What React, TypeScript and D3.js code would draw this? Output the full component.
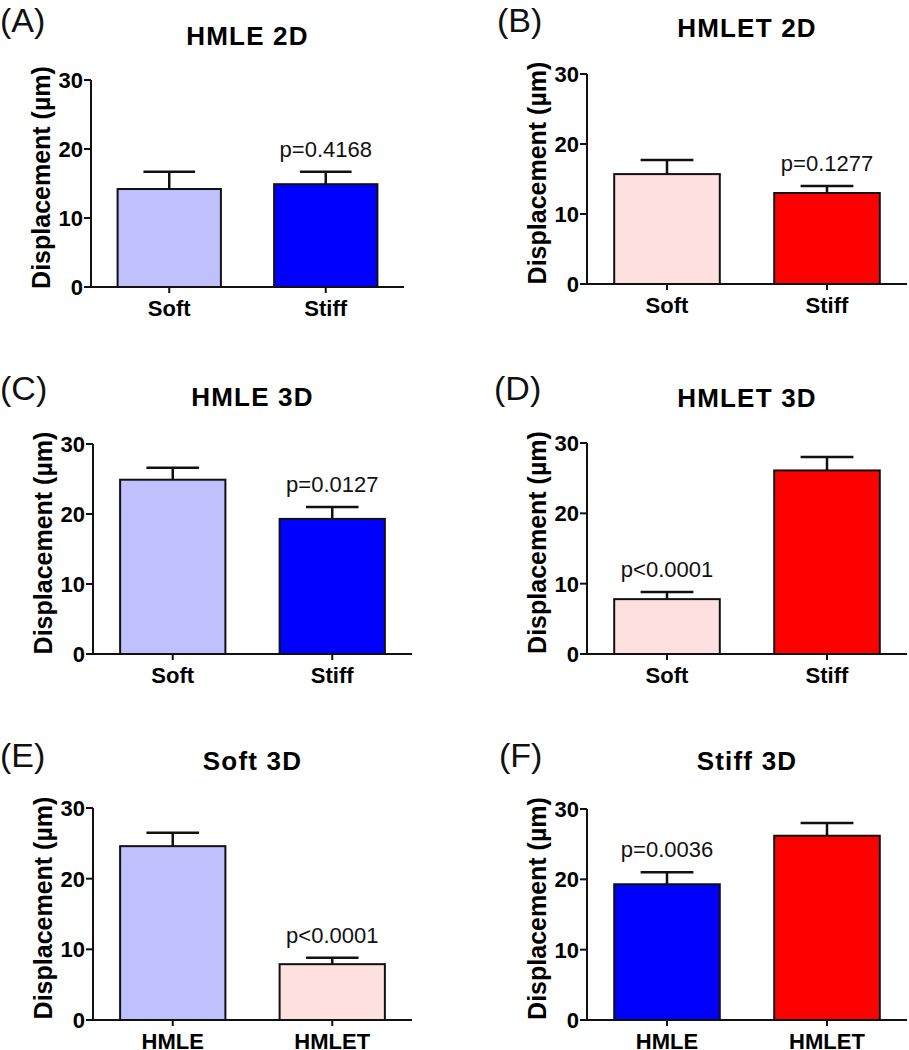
import React from 'react';
import * as d3 from 'd3';

// panel data
const panelLetters = ['(A)', '(B)', '(C)', '(D)', '(E)', '(F)'];
const panelTitles = ['HMLE 2D', 'HMLET 2D', 'HMLE 3D', 'HMLET 3D', 'Soft 3D', 'Stiff 3D'];
const categories = [
  ['Soft', 'Stiff'],
  ['Soft', 'Stiff'],
  ['Soft', 'Stiff'],
  ['Soft', 'Stiff'],
  ['HMLE', 'HMLET'],
  ['HMLE', 'HMLET'],
];
const means = [
  [14.2, 14.9],
  [15.7, 13.0],
  [24.9, 19.3],
  [7.8, 26.1],
  [24.6, 7.9],
  [19.3, 26.2],
];
const errors = [
  [2.5, 1.8],
  [2.0, 1.0],
  [1.7, 1.7],
  [1.0, 1.9],
  [1.9, 0.9],
  [1.7, 1.8],
];
const pIndex = [1, 1, 1, 0, 1, 0];
const pLabels = ['p=0.4168', 'p=0.1277', 'p=0.0127', 'p<0.0001', 'p<0.0001', 'p=0.0036'];
const yTicks = [0, 10, 20, 30];
const yLabel = 'Displacement (\u00b5m)';

const LIGHT_BLUE = '#c0c0ff';
const BLUE = '#0000ff';
const PINK = '#ffe0e0';
const RED = '#ff0000';
const barColors = [
  [LIGHT_BLUE, BLUE],
  [PINK, RED],
  [LIGHT_BLUE, BLUE],
  [PINK, RED],
  [LIGHT_BLUE, PINK],
  [BLUE, RED],
];

// where each panel sits on the page
const layouts = [
  { axisX: 91, width: 313, top: 80, bottom: 287, letterX: 0, letterY: 32, titleY: 45 },
  { axisX: 587, width: 320, top: 74, bottom: 284, letterX: 497, letterY: 32, titleY: 37 },
  { axisX: 93, width: 319, top: 444, bottom: 654, letterX: 0, letterY: 400, titleY: 406 },
  { axisX: 587, width: 320, top: 443, bottom: 654, letterX: 494, letterY: 400, titleY: 407 },
  { axisX: 93, width: 319, top: 808, bottom: 1020, letterX: 0, letterY: 767, titleY: 770 },
  { axisX: 587, width: 320, top: 809, bottom: 1020, letterX: 499, letterY: 767, titleY: 770 },
];

const FONT = '"Liberation Sans", Arial, sans-serif';

const Panel = ({ i }: { i: number }) => {
  const L = layouts[i];
  const cats = categories[i];
  const x = d3.scaleBand<string>()
    .domain(cats)
    .range([L.axisX, L.axisX + L.width])
    .paddingInner(0.34)
    .paddingOuter(0.17);
  const y = d3.scaleLinear().domain([0, 30]).range([L.bottom, L.top]);
  const bw = x.bandwidth();
  const capHalf = bw / 4;
  const midY = (L.top + L.bottom) / 2 - 6;

  return (
    <g>
      <text x={L.letterX} y={L.letterY} fontFamily={FONT} fontSize={34} fill="#111">
        {panelLetters[i]}
      </text>
      <text
        x={L.axisX + L.width / 2}
        y={L.titleY}
        textAnchor="middle"
        fontFamily={FONT}
        fontWeight="bold"
        fontSize={26}
        letterSpacing={1.2}
      >
        {panelTitles[i]}
      </text>
      <text
        transform={`translate(${L.axisX - 41},${midY}) rotate(-90)`}
        textAnchor="middle"
        fontFamily={FONT}
        fontWeight="bold"
        fontSize={25}
      >
        {yLabel}
      </text>

      {/* bars with error bars */}
      {cats.map((c, j) => {
        const x0 = x(c) as number;
        const cx = x0 + bw / 2;
        const yTop = y(means[i][j]);
        const yErr = y(means[i][j] + errors[i][j]);
        return (
          <g key={c}>
            <line x1={cx} x2={cx} y1={yTop} y2={yErr} stroke="#111" strokeWidth={2.5} />
            <line x1={cx - capHalf} x2={cx + capHalf} y1={yErr} y2={yErr} stroke="#111" strokeWidth={2.5} />
            <rect
              x={x0}
              y={yTop}
              width={bw}
              height={L.bottom - yTop}
              fill={barColors[i][j]}
              stroke="#111"
              strokeWidth={2}
            />
          </g>
        );
      })}

      {/* p value */}
      {(() => {
        const j = pIndex[i];
        const c = cats[j];
        const cx = (x(c) as number) + bw / 2;
        const yErr = y(means[i][j] + errors[i][j]);
        return (
          <text x={cx} y={yErr - 15} textAnchor="middle" fontFamily={FONT} fontSize={22} fill="#111">
            {pLabels[i]}
          </text>
        );
      })()}

      {/* y axis */}
      <line x1={L.axisX} x2={L.axisX} y1={L.top} y2={L.bottom} stroke="#111" strokeWidth={2} />
      {yTicks.map(t => (
        <g key={t}>
          <line x1={L.axisX - 7} x2={L.axisX} y1={y(t)} y2={y(t)} stroke="#111" strokeWidth={2} />
          <text
            x={L.axisX - 8}
            y={y(t)}
            dy="0.36em"
            textAnchor="end"
            fontFamily={FONT}
            fontWeight="bold"
            fontSize={22}
          >
            {t}
          </text>
        </g>
      ))}

      {/* x axis */}
      <line x1={L.axisX - 7} x2={L.axisX + L.width} y1={L.bottom} y2={L.bottom} stroke="#111" strokeWidth={2} />
      {cats.map(c => {
        const cx = (x(c) as number) + bw / 2;
        return (
          <g key={c}>
            <line x1={cx} x2={cx} y1={L.bottom} y2={L.bottom + 6} stroke="#111" strokeWidth={2} />
            <text
              x={cx}
              y={L.bottom + 29}
              textAnchor="middle"
              fontFamily={FONT}
              fontWeight="bold"
              fontSize={22}
            >
              {c}
            </text>
          </g>
        );
      })}
    </g>
  );
};

export default function App() {
  return (
    <svg
      width={909}
      height={1050}
      style={{ position: 'absolute', left: 0, top: 0, background: '#fff' }}
    >
      {panelTitles.map((_, i) => (
        <Panel key={i} i={i} />
      ))}
    </svg>
  );
}
